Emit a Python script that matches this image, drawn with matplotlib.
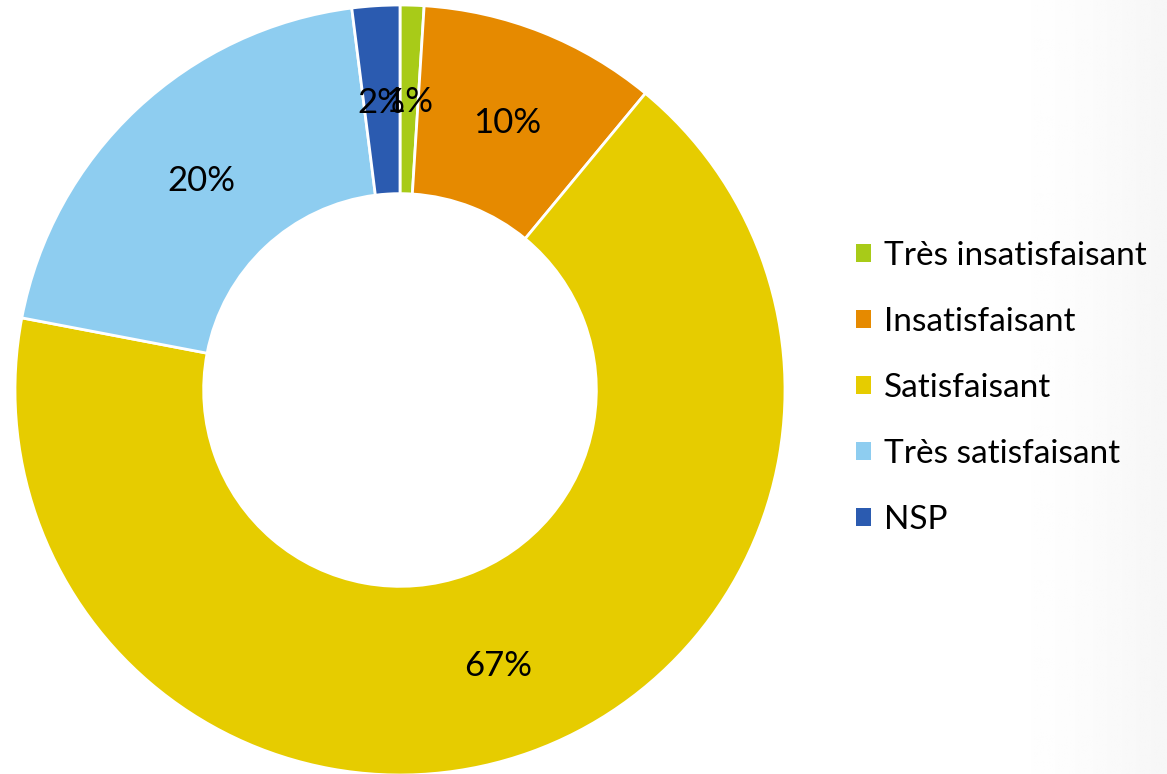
import matplotlib
matplotlib.use("Agg")
import matplotlib.pyplot as plt
import numpy as np
from matplotlib.patches import Patch

categories = ["Très insatisfaisant", "Insatisfaisant", "Satisfaisant",
              "Très satisfaisant", "NSP"]
values = [1, 10, 67, 20, 2]
colors = ["#A8CB18", "#E68A00", "#E6CC00", "#8ECDF0", "#2B5BB0"]

plt.rcParams["font.family"] = ["Lato", "DejaVu Sans"]

W, H = 1167, 774
fig = plt.figure(figsize=(W / 100, H / 100), dpi=100)

# faint grey shading along the right edge of the slide
bg = fig.add_axes([0, 0, 1, 1], zorder=-10)
xs = np.linspace(0, 1, 400)
shade = np.clip((xs - 0.85) / 0.15, 0, 1) ** 1.5 * 0.035
bg.imshow(np.tile(1 - shade, (10, 1)), cmap="gray", vmin=0, vmax=1,
          aspect="auto", extent=[0, 1, 0, 1])
bg.axis("off")

cx, cy, r = 400, 390, 385
ax = fig.add_axes([(cx - r) / W, (H - cy - r) / H, 2 * r / W, 2 * r / H])
wedges, texts = ax.pie(
    values, colors=colors, startangle=90, counterclock=False, radius=1,
    labels=[f"{v}%" for v in values], labeldistance=0.755,
    wedgeprops=dict(width=0.49, edgecolor="white", linewidth=2),
    textprops=dict(fontsize=25, color="black", ha="center",
                   va="center_baseline"),
)
ax.set_xlim(-1, 1)
ax.set_ylim(-1, 1)
ax.set_aspect("equal")
ax.axis("off")

handles = [Patch(facecolor=c, edgecolor="none") for c in colors]
fig.legend(handles, categories, loc="center left",
           bbox_to_anchor=(856 / W, 1 - 388 / H), frameon=False,
           fontsize=24, handlelength=0.45, handleheight=0.45,
           handletextpad=0.4, labelspacing=1.08, borderpad=0,
           borderaxespad=0)

fig.savefig("out.png", dpi=100)
